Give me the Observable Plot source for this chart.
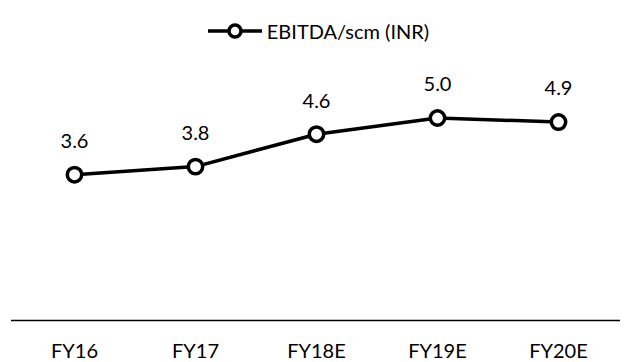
<!DOCTYPE html>
<html>
<head>
<meta charset="utf-8">
<script src="https://cdn.jsdelivr.net/npm/d3@7"></script>
<script src="https://cdn.jsdelivr.net/npm/@observablehq/plot@0.6"></script>
<style>
  html, body { margin: 0; padding: 0; background: #fff; }
  body { width: 625px; height: 362px; overflow: hidden; font-family: Lato, "Open Sans", sans-serif; }
  #legend { height: 62px; display: flex; align-items: center; justify-content: center; padding-left: 11px; box-sizing: border-box; font-size: 20px; color: #000; }
  #legend svg { margin-right: 4px; }
</style>
</head>
<body>
<div id="legend"></div>
<div id="chart"></div>
<script>
const categories = ["FY16", "FY17", "FY18E", "FY19E", "FY20E"];
const values = [3.6, 3.8, 4.6, 5.0, 4.9];
const seriesName = "EBITDA/scm (INR)";

const data = categories.map((c, i) => ({ year: c, value: values[i] }));

// Legend
const legend = document.getElementById("legend");
const ns = "http://www.w3.org/2000/svg";
const icon = document.createElementNS(ns, "svg");
icon.setAttribute("width", 56);
icon.setAttribute("height", 20);
const ln = document.createElementNS(ns, "line");
ln.setAttribute("x1", 1); ln.setAttribute("x2", 55);
ln.setAttribute("y1", 10); ln.setAttribute("y2", 10);
ln.setAttribute("stroke", "#000"); ln.setAttribute("stroke-width", 3.5);
icon.appendChild(ln);
const cc = document.createElementNS(ns, "circle");
cc.setAttribute("cx", 28); cc.setAttribute("cy", 10); cc.setAttribute("r", 6);
cc.setAttribute("fill", "#fff"); cc.setAttribute("stroke", "#000"); cc.setAttribute("stroke-width", 3.5);
icon.appendChild(cc);
legend.appendChild(icon);
const lt = document.createElement("span");
lt.textContent = seriesName;
legend.appendChild(lt);

const chart = Plot.plot({
  width: 625,
  height: 300,
  marginTop: 15,
  marginBottom: 42,
  marginLeft: 11,
  marginRight: 5,
  style: { fontFamily: "Lato, 'Open Sans', sans-serif", fontSize: "20px", color: "#000", background: "#fff" },
  x: { type: "point", domain: categories, padding: 0.5, label: null },
  y: { domain: [0, 6], axis: null },
  marks: [
    Plot.ruleY([0], { stroke: "#000", strokeWidth: 1.5 }),
    Plot.axisX({ tickSize: 0, tickPadding: 23, fontSize: 20, label: null }),
    Plot.line(data, { x: "year", y: "value", stroke: "#000", strokeWidth: 3.5 }),
    Plot.dot(data, { x: "year", y: "value", r: 7.2, fill: "#fff", stroke: "#000", strokeWidth: 3.5 }),
    Plot.text(data, { x: "year", y: "value", text: d => d.value.toFixed(1), dy: -33, fontSize: 20, fill: "#000" })
  ]
});
document.getElementById("chart").appendChild(chart);
</script>
</body>
</html>
